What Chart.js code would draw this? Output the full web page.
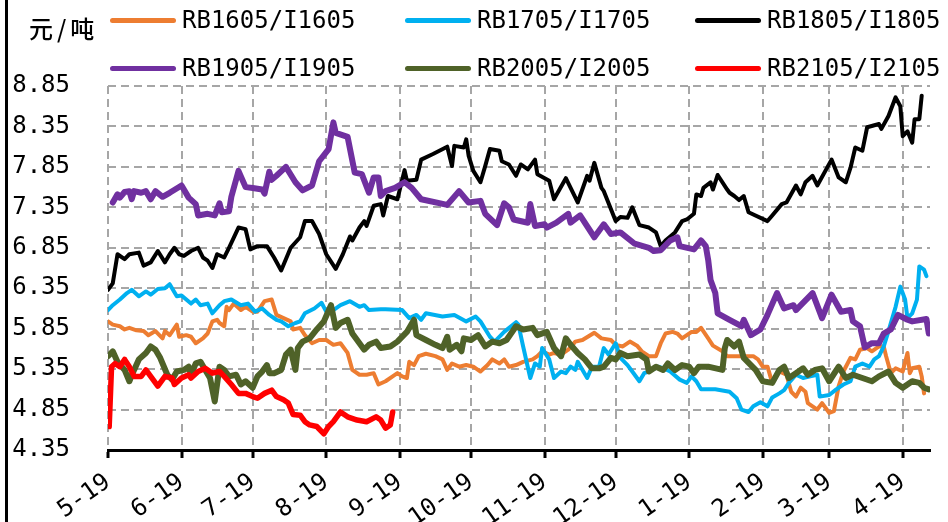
<!DOCTYPE html>
<html><head><meta charset="utf-8">
<script src="https://cdn.jsdelivr.net/npm/chart.js@4.4.1/dist/chart.umd.min.js"></script>
<style>
html,body{margin:0;padding:0;background:#fff;}
#wrap{position:relative;width:948px;height:522px;overflow:hidden;background:#fff;}
#frame{position:absolute;left:5px;top:0;width:3px;height:522px;background:#000;}
#unit{position:absolute;left:29px;top:13px;font:500 24px "Noto Sans CJK SC";color:#000;line-height:30px;letter-spacing:4px;}
.lg{position:absolute;display:flex;align-items:center;height:30px;font:24px "DejaVu Sans Mono";color:#000;white-space:nowrap;}
.lg i{display:inline-block;width:66px;height:5px;border-radius:3px;margin-right:6px;}
canvas{position:absolute;left:0;top:0;}
</style></head><body>
<div id="wrap"><canvas id="c" width="948" height="522"></canvas><div id="frame"></div><div id="unit">元/吨</div><div id="legend"></div></div>
<script>
// x = trading day offset from 5-19
const tickDays = [0,31,61,92,123,153,184,214,245,276,304,335];
const tickLabels = ['5-19','6-19','7-19','8-19','9-19','10-19','11-19','12-19','1-19','2-19','3-19','4-19'];
const yTickValues = [4.35,4.85,5.35,5.85,6.35,6.85,7.35,7.85,8.35,8.85];
const seriesNames = ['RB1605/I1605','RB1705/I1705','RB1805/I1805','RB1905/I1905','RB2005/I2005','RB2105/I2105'];

const rb1605 = [[0,5.94],[2,5.90],[5,5.88],[7,5.84],[9,5.86],[12,5.83],[15,5.82],[17,5.77],[20,5.82],[23,5.73],[24,5.82],[26,5.77],[29,5.90],[30,5.75],[33,5.77],[35,5.75],[37,5.67],[40,5.73],[42,5.79],[44,5.94],[46,5.96],[47,5.92],[49,5.88],[50,6.12],[51,6.08],[53,6.16],[56,6.08],[58,6.12],[61,6.06],[63,6.06],[66,6.19],[69,6.21],[71,6.02],[74,5.98],[77,5.94],[78,5.84],[81,5.86],[83,5.77],[86,5.67],[89,5.71],[92,5.71],[95,5.65],[98,5.67],[101,5.55],[103,5.34],[106,5.28],[109,5.28],[112,5.30],[114,5.16],[117,5.20],[120,5.26],[122,5.30],[124,5.26],[126,5.24],[127,5.44],[129,5.40],[131,5.51],[134,5.54],[138,5.51],[141,5.47],[143,5.34],[145,5.42],[148,5.38],[151,5.40],[154,5.38],[157,5.32],[160,5.40],[162,5.47],[165,5.42],[167,5.47],[169,5.38],[172,5.40],[175,5.44],[179,5.47],[181,5.51],[183,5.57],[186,5.53],[188,5.55],[191,5.53],[194,5.59],[197,5.69],[200,5.71],[205,5.80],[208,5.73],[212,5.71],[214,5.65],[217,5.63],[220,5.69],[223,5.64],[225,5.57],[228,5.51],[231,5.51],[233,5.67],[235,5.79],[238,5.81],[240,5.79],[242,5.73],[244,5.77],[246,5.81],[248,5.81],[250,5.86],[253,5.73],[255,5.64],[259,5.57],[261,5.51],[264,5.51],[268,5.51],[272,5.51],[274,5.47],[276,5.38],[278,5.38],[280,5.18],[283,5.32],[286,5.28],[288,5.07],[290,5.01],[292,5.12],[294,5.07],[295,4.93],[297,4.89],[299,4.85],[301,4.93],[304,4.81],[306,4.83],[308,5.14],[310,5.32],[313,5.49],[315,5.47],[317,5.59],[320,5.61],[322,5.57],[325,5.63],[327,5.63],[328,5.51],[330,5.30],[332,5.36],[335,5.32],[337,5.55],[338,5.30],[339,5.36],[342,5.38],[343,5.26],[344,5.05]];

const rb1705 = [[0,6.08],[2,6.14],[5,6.21],[8,6.29],[10,6.33],[13,6.25],[16,6.31],[18,6.27],[21,6.34],[24,6.35],[26,6.40],[29,6.25],[31,6.26],[35,6.16],[37,6.21],[39,6.14],[42,6.16],[44,6.04],[47,6.14],[49,6.19],[52,6.21],[56,6.14],[59,6.16],[62,6.06],[65,6.10],[68,6.02],[71,5.96],[73,5.94],[76,5.88],[79,5.92],[81,5.94],[83,6.04],[87,6.10],[90,6.17],[92,6.06],[95,6.08],[98,6.14],[102,6.19],[106,6.12],[108,6.14],[110,6.08],[115,6.09],[117,6.09],[124,6.08],[127,5.98],[130,6.02],[132,5.96],[134,6.04],[141,6.00],[146,6.02],[151,5.94],[155,6.00],[157,5.94],[161,5.75],[163,5.69],[167,5.81],[172,5.93],[173,5.90],[175,5.63],[178,5.24],[180,5.42],[182,5.38],[183,5.61],[186,5.47],[188,5.24],[191,5.32],[193,5.30],[195,5.38],[197,5.34],[198,5.44],[202,5.24],[204,5.38],[207,5.38],[209,5.61],[211,5.53],[214,5.67],[216,5.49],[219,5.40],[221,5.32],[224,5.20],[226,5.30],[228,5.32],[232,5.38],[234,5.36],[237,5.32],[241,5.22],[244,5.18],[246,5.26],[248,5.20],[250,5.10],[256,5.10],[262,5.07],[265,4.99],[267,4.85],[270,4.82],[272,4.89],[275,4.94],[278,4.89],[280,5.00],[283,5.05],[285,5.09],[287,5.18],[290,5.28],[293,5.24],[296,5.26],[299,5.28],[300,5.01],[304,5.03],[307,5.10],[310,5.16],[313,5.20],[315,5.38],[318,5.42],[321,5.38],[323,5.47],[325,5.51],[327,5.63],[329,5.82],[332,6.12],[334,6.37],[336,6.21],[337,5.98],[339,6.04],[341,6.21],[342,6.62],[344,6.58],[345,6.50]];

const rb1805 = [[0,6.33],[2,6.41],[4,6.77],[7,6.71],[9,6.77],[13,6.79],[15,6.63],[18,6.67],[21,6.81],[24,6.67],[26,6.77],[28,6.85],[30,6.77],[32,6.75],[35,6.81],[38,6.85],[40,6.73],[42,6.69],[44,6.60],[46,6.77],[49,6.73],[51,6.85],[55,7.10],[58,7.08],[60,6.83],[63,6.87],[67,6.87],[70,6.73],[73,6.57],[77,6.85],[81,6.98],[83,7.18],[86,7.18],[89,7.02],[92,6.77],[96,6.59],[99,6.77],[102,6.99],[103,6.94],[106,7.10],[108,7.18],[109,7.12],[112,7.37],[115,7.39],[116,7.25],[118,7.49],[122,7.45],[125,7.81],[126,7.68],[130,7.69],[132,7.94],[137,8.01],[143,8.10],[145,7.86],[146,8.11],[150,8.09],[151,8.19],[152,7.99],[154,7.80],[157,7.66],[159,7.86],[161,8.07],[165,8.05],[166,7.92],[169,7.88],[172,7.74],[174,7.88],[177,7.82],[180,7.94],[181,7.76],[186,7.68],[188,7.45],[193,7.71],[198,7.41],[202,7.74],[203,7.68],[205,7.90],[208,7.59],[209,7.55],[214,7.18],[216,7.23],[219,7.22],[221,7.35],[224,7.13],[228,7.10],[231,7.04],[233,6.87],[235,6.94],[239,7.04],[242,7.18],[244,7.20],[247,7.27],[248,7.51],[250,7.49],[251,7.59],[254,7.66],[255,7.57],[257,7.75],[261,7.57],[262,7.53],[264,7.49],[266,7.44],[268,7.49],[270,7.29],[278,7.18],[280,7.25],[284,7.39],[286,7.41],[290,7.62],[292,7.51],[294,7.66],[297,7.74],[299,7.62],[305,7.94],[308,7.72],[311,7.66],[313,7.84],[315,8.09],[318,8.05],[320,8.34],[325,8.38],[326,8.32],[329,8.48],[332,8.71],[334,8.60],[335,8.23],[337,8.29],[339,8.15],[340,8.44],[342,8.44],[343,8.73]];

const rb1905 = [[2,7.41],[4,7.51],[5,7.47],[7,7.54],[9,7.55],[10,7.45],[11,7.55],[14,7.53],[16,7.55],[18,7.45],[20,7.55],[23,7.48],[26,7.53],[31,7.62],[34,7.47],[37,7.39],[38,7.25],[42,7.27],[45,7.25],[47,7.40],[48,7.29],[51,7.30],[52,7.48],[55,7.80],[58,7.60],[61,7.59],[65,7.57],[66,7.52],[68,7.79],[69,7.69],[71,7.74],[75,7.85],[79,7.66],[82,7.56],[86,7.62],[89,7.92],[93,8.07],[95,8.40],[96,8.27],[101,8.22],[104,7.78],[107,7.76],[110,7.53],[112,7.72],[114,7.72],[115,7.49],[117,7.55],[121,7.59],[125,7.66],[128,7.59],[132,7.45],[143,7.38],[148,7.55],[152,7.41],[157,7.43],[159,7.27],[164,7.13],[167,7.40],[169,7.35],[171,7.20],[177,7.16],[178,7.39],[180,7.12],[184,7.14],[185,7.10],[189,7.16],[194,7.27],[195,7.16],[199,7.25],[205,6.98],[209,7.14],[212,7.02],[216,7.04],[222,6.90],[228,6.85],[230,6.81],[233,6.82],[237,6.94],[240,6.98],[241,6.87],[247,6.83],[250,6.94],[252,6.87],[253,6.70],[254,6.45],[256,6.29],[257,6.04],[262,5.96],[267,5.88],[268,5.96],[271,5.77],[275,5.84],[278,6.02],[282,6.29],[285,6.10],[289,6.14],[290,6.08],[297,6.29],[301,5.98],[305,6.27],[309,6.06],[313,6.08],[314,5.94],[317,5.88],[319,5.62],[322,5.67],[325,5.67],[327,5.79],[330,5.84],[333,6.02],[337,5.96],[339,5.94],[345,5.97],[346,5.79]];

const rb2005 = [[0,5.51],[2,5.57],[4,5.44],[7,5.34],[9,5.20],[11,5.34],[13,5.47],[16,5.55],[18,5.63],[20,5.59],[22,5.49],[25,5.28],[27,5.22],[29,5.32],[32,5.34],[34,5.38],[35,5.28],[37,5.42],[39,5.44],[41,5.34],[43,5.24],[45,4.95],[47,5.38],[49,5.34],[51,5.26],[54,5.28],[56,5.16],[58,5.20],[61,5.12],[63,5.26],[65,5.32],[67,5.40],[68,5.30],[70,5.30],[73,5.34],[75,5.53],[77,5.59],[79,5.34],[80,5.61],[82,5.69],[85,5.73],[88,5.84],[91,5.94],[94,6.14],[96,5.86],[98,5.92],[101,5.96],[103,5.79],[106,5.67],[108,5.59],[110,5.65],[113,5.69],[115,5.61],[119,5.63],[122,5.69],[126,5.81],[129,5.96],[130,5.77],[134,5.71],[138,5.65],[141,5.61],[143,5.75],[144,5.59],[147,5.65],[149,5.57],[150,5.73],[153,5.71],[156,5.77],[159,5.63],[162,5.69],[165,5.67],[168,5.71],[172,5.88],[175,5.84],[179,5.86],[181,5.77],[185,5.81],[188,5.61],[191,5.51],[193,5.73],[195,5.65],[198,5.55],[201,5.47],[204,5.36],[207,5.36],[209,5.38],[212,5.49],[214,5.47],[216,5.55],[219,5.51],[224,5.53],[227,5.47],[228,5.32],[231,5.38],[234,5.34],[236,5.42],[239,5.34],[242,5.40],[245,5.38],[247,5.30],[249,5.38],[253,5.38],[259,5.34],[260,5.61],[261,5.71],[264,5.63],[266,5.69],[268,5.49],[271,5.40],[273,5.34],[276,5.20],[280,5.18],[283,5.34],[285,5.38],[287,5.24],[290,5.30],[293,5.36],[295,5.28],[298,5.34],[301,5.36],[304,5.20],[308,5.38],[311,5.24],[314,5.28],[318,5.24],[322,5.20],[325,5.26],[329,5.32],[332,5.18],[335,5.12],[339,5.20],[342,5.18],[344,5.12],[346,5.10]];

const rb2105 = [[0.5,4.64],[1.5,5.38],[3,5.42],[5,5.38],[7,5.47],[9,5.38],[11,5.26],[14,5.26],[16,5.34],[19,5.22],[21,5.14],[24,5.26],[27,5.24],[28,5.16],[31,5.24],[34,5.28],[35,5.24],[38,5.32],[41,5.36],[44,5.30],[47,5.32],[49,5.26],[52,5.16],[55,5.05],[58,5.05],[61,5.01],[63,4.99],[66,5.05],[69,5.09],[71,5.01],[74,4.97],[76,4.93],[78,4.79],[81,4.78],[83,4.70],[85,4.66],[88,4.64],[91,4.55],[93,4.64],[95,4.70],[98,4.82],[101,4.76],[105,4.72],[109,4.70],[113,4.76],[115,4.72],[117,4.62],[119,4.66],[120,4.82]];

const seriesData = [rb1605, rb1705, rb1805, rb1905, rb2005, rb2105];
const seriesColors = ['#ED7D31','#00B0F0','#000000','#7030A0','#4F6228','#FF0000'];
const seriesWidths = [4, 4, 4, 6, 6, 5.5];

const tickFont = {family:'DejaVu Sans Mono', size:24};

const datasets = seriesData.map((pts,i)=>({
  label: seriesNames[i],
  data: pts.map(([d,v])=>({x:d,y:v})),
  borderColor: seriesColors[i],
  backgroundColor: seriesColors[i],
  borderWidth: seriesWidths[i],
  pointRadius: 0,
  tension: 0,
  fill: false,
  borderJoinStyle: 'round',
  borderCapStyle: 'round',
  order: seriesData.length - i
}));

const chart = new Chart(document.getElementById('c'), {
  type: 'line',
  data: {datasets},
  options: {
    responsive: false,
    animation: false,
    devicePixelRatio: 1,
    layout: {padding: {top: 86, right: 18, bottom: 0, left: 0}},
    plugins: {legend: {display: false}, tooltip: {enabled: false}, title: {display: false}},
    scales: {
      x: {
        type: 'linear', min: 0, max: 346.5,
        afterBuildTicks: s => { s.ticks = tickDays.map(v=>({value:v})); },
        afterFit: s => { s.height = 72; },
        ticks: {
          autoSkip: false, minRotation: 35, maxRotation: 35, padding: 10,
          color: '#000', font: tickFont,
          callback: v => { const k = tickDays.indexOf(v); return k >= 0 ? tickLabels[k] : ''; }
        },
        grid: {color: '#a6a6a6', lineWidth: 2, drawTicks: true, tickLength: 8, tickColor: '#000', tickWidth: 3},
        border: {display: true, color: '#000', width: 3, dash: [8,5]}
      },
      y: {
        type: 'linear', min: 4.35, max: 8.85,
        afterBuildTicks: s => { s.ticks = yTickValues.map(v=>({value:v})); },
        afterFit: s => { s.width = 108; },
        ticks: {padding: 38, color: '#000', font: tickFont, callback: v => Number(v).toFixed(2)},
        grid: {color: '#a6a6a6', lineWidth: 2, drawTicks: false},
        border: {display: false, dash: [8,5]}
      }
    }
  }
});

// legend built from the chart's datasets
const legendLeft = [110, 405, 695];
const legendTop = [5, 53];
const lg = document.getElementById('legend');
chart.data.datasets.forEach((ds,i)=>{
  const d = document.createElement('div');
  d.className = 'lg';
  d.style.left = legendLeft[i%3] + 'px';
  d.style.top = legendTop[Math.floor(i/3)] + 'px';
  const sw = document.createElement('i');
  sw.style.background = ds.borderColor;
  d.appendChild(sw);
  d.appendChild(document.createTextNode(ds.label));
  lg.appendChild(d);
});
</script>
</body></html>
